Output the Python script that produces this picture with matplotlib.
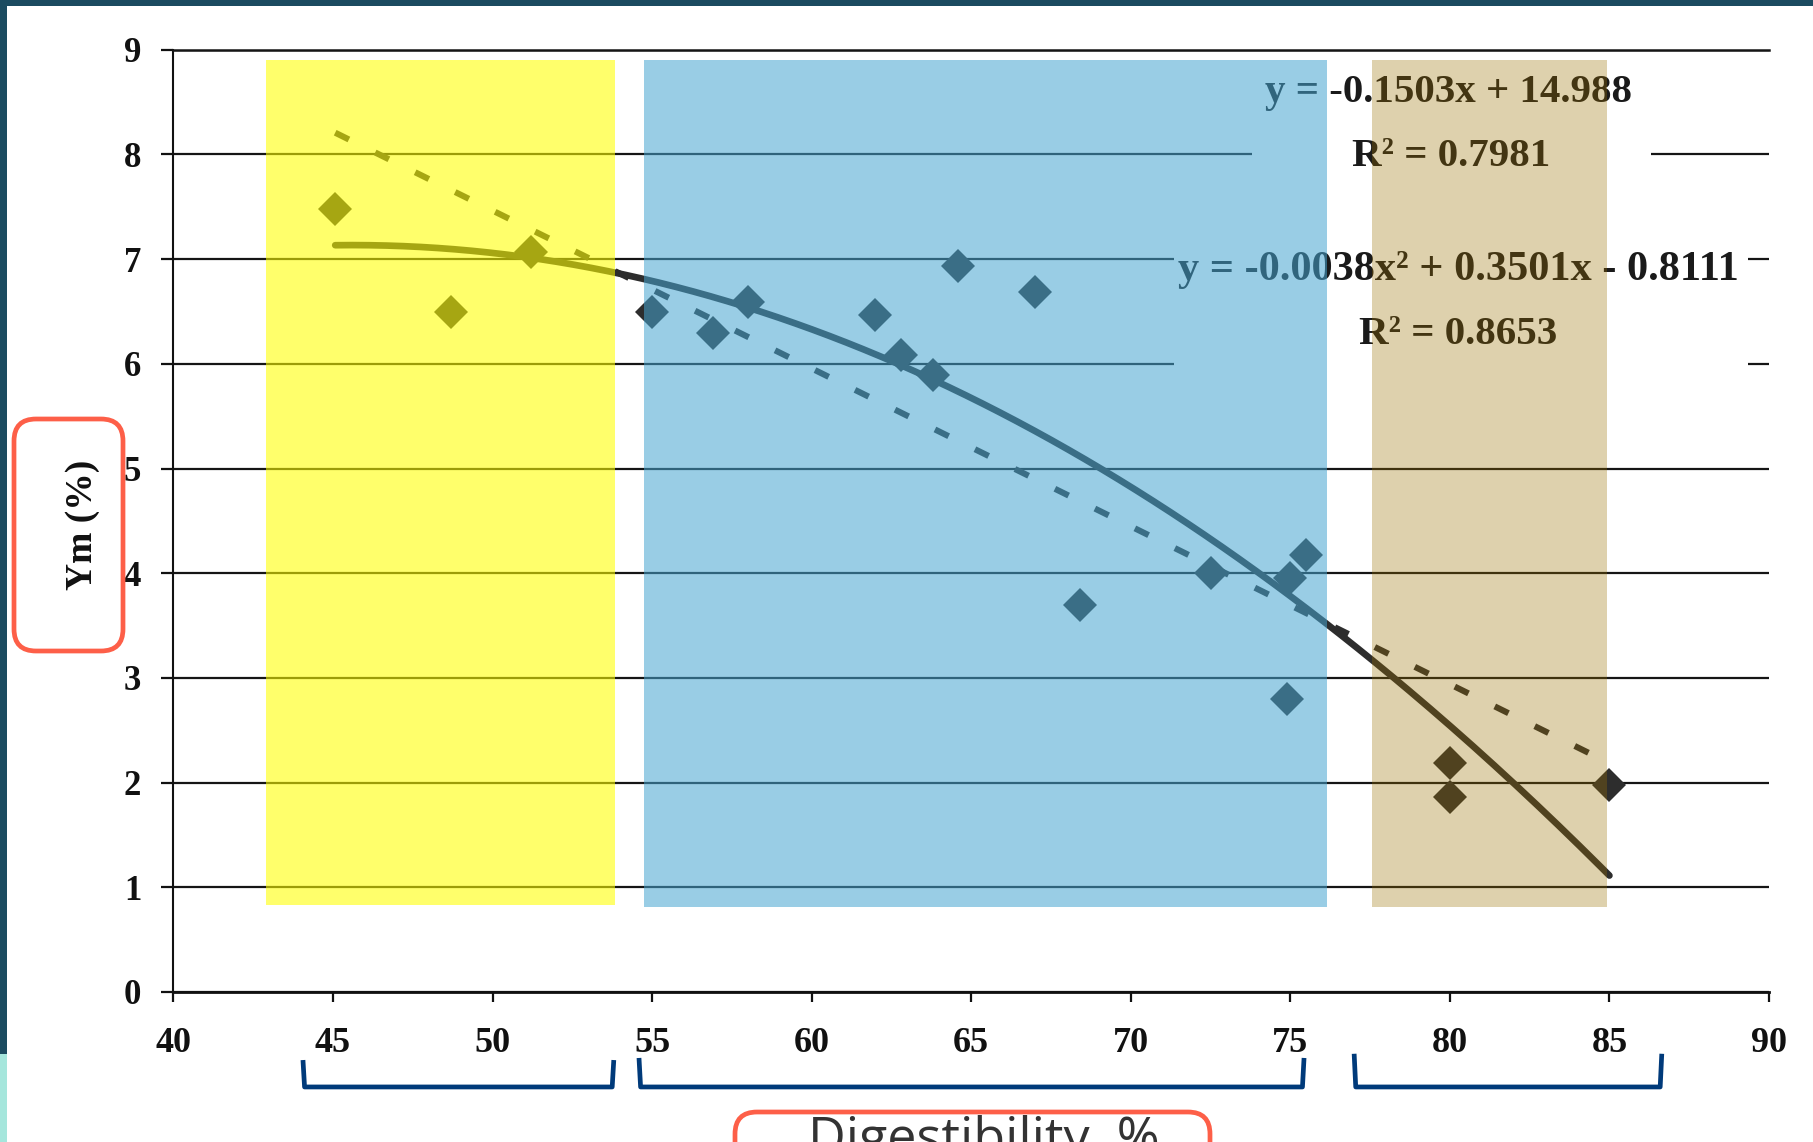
import numpy as np
import matplotlib
matplotlib.use("Agg")
import matplotlib.pyplot as plt
from matplotlib.patches import Rectangle, FancyBboxPatch
from matplotlib.transforms import IdentityTransform

# ---------------- data ----------------
digestibility = [45.07, 48.7, 51.2, 55.0, 56.9, 58.0, 62.0, 62.8, 63.8, 64.6,
                 67.0, 68.4, 72.5, 74.9, 75.0, 75.5, 80.0, 80.0, 85.0]
ym = [7.48, 6.49, 7.07, 6.49, 6.29, 6.59, 6.47, 6.08, 5.89, 6.93,
      6.69, 3.70, 4.00, 2.80, 3.95, 4.17, 2.19, 1.86, 1.98]

linear_eq = "y = -0.1503x + 14.988"
linear_r2 = "R² = 0.7981"
quad_eq = "y = -0.0038x² + 0.3501x - 0.8111"
quad_r2 = "R² = 0.8653"

x_ticks = [40, 45, 50, 55, 60, 65, 70, 75, 80, 85, 90]
y_ticks = [0, 1, 2, 3, 4, 5, 6, 7, 8, 9]

band_start = [42.9, 54.75, 77.56]
band_end = [53.84, 76.15, 84.93]
band_low = [0.83, 0.81, 0.81]
band_high = [8.90, 8.90, 8.90]
band_color = ["#ffff00", "#45a4d0", "#9a7002"]
band_alpha = [0.58, 0.55, 0.32]

y_label = "Ym (%)"
x_label = "Digestibility, %"

# ---------------- figure ----------------
W, H = 1813, 1142
plt.rcParams["font.family"] = ["Liberation Serif", "DejaVu Serif"]
plt.rcParams["font.weight"] = "bold"

fig = plt.figure(figsize=(W / 100, H / 100), dpi=100, facecolor="white")
ax = fig.add_axes([173.4 / W, (H - 992) / H, (1769 - 173.4) / W, (992 - 49.7) / H])
ax.set_facecolor("white")

base = "#2d2d2d"
grid_c = "#151515"

ax.set_xlim(40, 90)
ax.set_ylim(0, 9)
ax.set_xticks(x_ticks)
ax.set_yticks(y_ticks)
ax.set_axisbelow(True)
ax.grid(axis="y", color=grid_c, lw=1.6)
ax.grid(axis="x", visible=False)

ax.spines["right"].set_visible(False)
ax.spines["top"].set_color(grid_c)
ax.spines["top"].set_linewidth(1.8)
ax.spines["left"].set_color("#111111")
ax.spines["left"].set_linewidth(1.5)
ax.spines["bottom"].set_color("#111111")
ax.spines["bottom"].set_linewidth(2.0)

ax.tick_params(axis="y", length=8.3, width=1.6, pad=15, labelsize=25, colors="#111111")
ax.tick_params(axis="x", length=7, width=1.6, pad=18, labelsize=26, colors="#111111")

# white label boxes hiding grid lines
ax.add_patch(Rectangle((73.8, 7.7), 86.3 - 73.8, 8.8 - 7.7, facecolor="white",
                       edgecolor="none", zorder=2))
ax.add_patch(Rectangle((71.34, 5.8), 89.35 - 71.34, 7.2 - 5.8, facecolor="white",
                       edgecolor="none", zorder=2))

# equation texts
tc = "#1a1a1a"
ax.text(79.96, 8.59, linear_eq, ha="center", va="center", fontsize=29.5, color=tc, zorder=3)
ax.text(80.04, 7.98, linear_r2, ha="center", va="center", fontsize=29.5, color=tc, zorder=3)
ax.text(80.26, 6.90, quad_eq, ha="center", va="center", fontsize=30.5, color=tc, zorder=3)
ax.text(80.26, 6.28, quad_r2, ha="center", va="center", fontsize=29.5, color=tc, zorder=3)

# trend lines
fit1 = np.polyfit(digestibility, ym, 1)
fit2 = np.polyfit(digestibility, ym, 2)
xs = np.linspace(min(digestibility), max(digestibility), 300)
ax.plot(xs, np.polyval(fit1, xs), color=base, lw=4.4, linestyle=(0, (2.5, 4.8)), zorder=4)
ax.plot(xs, np.polyval(fit2, xs), color=base, lw=4.8, zorder=4, solid_capstyle="round")

# points
ax.plot(digestibility, ym, "D", ms=17, color=base, mew=0, zorder=5, clip_on=False)

# translucent bands on top
for x0, x1, y0, y1, c, a in zip(band_start, band_end, band_low, band_high, band_color, band_alpha):
    ax.add_patch(Rectangle((x0, y0), x1 - x0, y1 - y0, facecolor=c, alpha=a,
                           edgecolor="none", zorder=10))

# brackets under the x axis
navy = "#003a7a"
for xa, xb, ytop in [(44.06, 53.8, -0.65), (54.59, 75.43, -0.63), (77.0, 86.64, -0.59)]:
    ax.plot([xa, xa + 0.05, xb - 0.05, xb], [ytop, -0.907, -0.907, ytop], color=navy,
            lw=3.4, clip_on=False, solid_joinstyle="round", solid_capstyle="butt", zorder=6)

# slide frame strips
fig.add_artist(Rectangle((0, 1 - 6 / H), 1, 6 / H, transform=fig.transFigure,
                         facecolor="#1b4b60", edgecolor="none"))
fig.add_artist(Rectangle((0, (H - 1054) / H), 7 / W, 1054 / H, transform=fig.transFigure,
                         facecolor="#1b4b60", edgecolor="none"))
fig.add_artist(Rectangle((0, 0), 7 / W, (H - 1054) / H, transform=fig.transFigure,
                         facecolor="#a5e6dc", edgecolor="none"))

red = "#fd5f48"
# y label box
fig.add_artist(FancyBboxPatch((14, H - 651), 109, 232, boxstyle="round,pad=0,rounding_size=22",
                              transform=IdentityTransform(), facecolor="none",
                              edgecolor=red, lw=3.4))
fig.text(83, H - 525, y_label, transform=IdentityTransform(), rotation=90,
         ha="center", va="center", fontsize=27, color="#111111")

# x label box (cut off at the bottom edge, as in the source slide)
fig.add_artist(FancyBboxPatch((735, -40), 475, H - 1112 + 40,
                              boxstyle="round,pad=0,rounding_size=22",
                              transform=IdentityTransform(), facecolor="white",
                              edgecolor=red, lw=3.4))
fig.text(984, H - 1115, x_label, transform=IdentityTransform(), ha="center", va="top",
         fontsize=37.5, color="#333333", family=["Open Sans", "DejaVu Sans"],
         fontweight="normal")

fig.savefig("out.png", dpi=100, facecolor="white")
